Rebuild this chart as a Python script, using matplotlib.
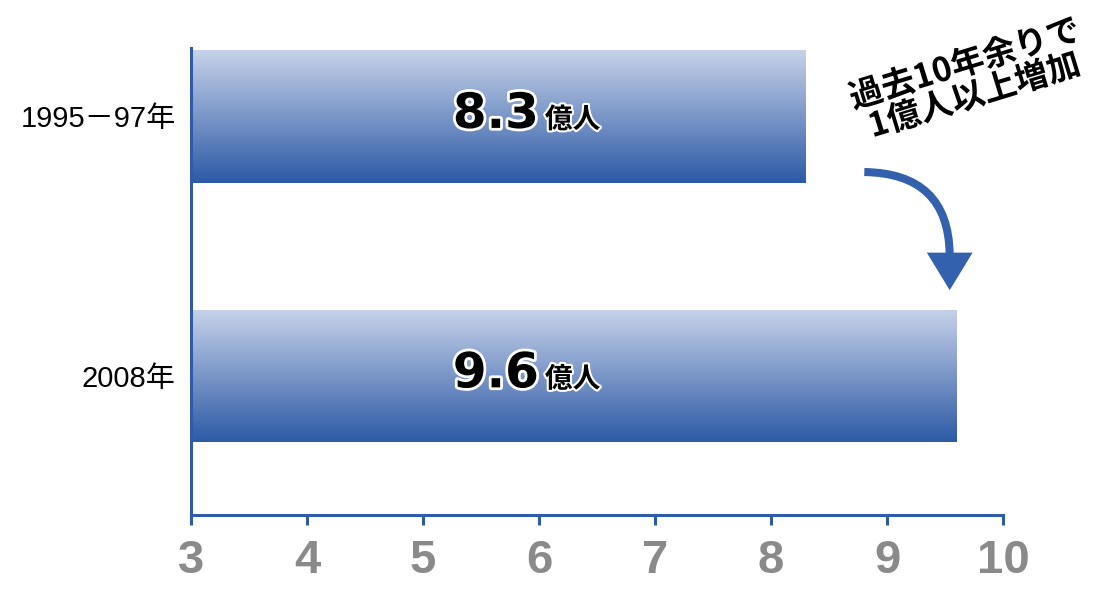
import numpy as np
import matplotlib
matplotlib.use('Agg')
import matplotlib.pyplot as plt
import matplotlib.patheffects as pe
from matplotlib.patches import FancyArrowPatch
from matplotlib.colors import LinearSegmentedColormap

periods = ['1995－97年', '2008年']
values = [8.3, 9.6]
unit = '億人'
note = '過去10年余りで\n1億人以上増加'
xticks = [3, 4, 5, 6, 7, 8, 9, 10]

blue = '#2f5ca8'
cjk = ['Noto Sans CJK JP', 'DejaVu Sans']
latin = ['Liberation Sans', 'Noto Sans CJK JP', 'DejaVu Sans']

fig = plt.figure(figsize=(10.96, 5.96), dpi=100)
ax = fig.add_axes([0.1743, 0.1359, 0.7409, 0.7836])

ypos = [1, 0]
h = 0.512
grad = LinearSegmentedColormap.from_list('g', ['#c6d2e9', '#2d5aa6'])
g = np.linspace(0, 1, 256).reshape(-1, 1)

for y, v in zip(ypos, values):
    bar = ax.barh(y, v - 3, left=3, height=h, color='none', edgecolor='none')[0]
    im = ax.imshow(g, cmap=grad, aspect='auto', origin='upper',
                   extent=[3, v, y - h / 2, y + h / 2], zorder=1)
    im.set_clip_path(bar)
    ax.text(6.0, y - 0.044, f'{v:.1f}', ha='right', va='baseline',
            fontsize=35, fontweight='bold', family='DejaVu Sans',
            color='black', path_effects=[pe.withStroke(linewidth=4, foreground='white')],
            zorder=3)
    ax.text(6.05, y - 0.044, unit, ha='left', va='baseline',
            fontsize=20, fontweight='bold', family=cjk,
            color='black', path_effects=[pe.withStroke(linewidth=3, foreground='white')],
            zorder=3)

ax.set_xlim(3, 10)
ax.set_ylim(-0.536, 1.264)
ax.set_xticks(xticks)
ax.set_xticklabels([str(t) for t in xticks], fontsize=34, fontweight='bold',
                   color='#8a8a8a', family=latin)
ax.set_yticks(ypos)
ax.set_yticklabels(periods, fontsize=21, family=latin)
ax.tick_params(axis='x', length=7.5, width=2.2, color=blue, direction='out', pad=10)
ax.tick_params(axis='y', length=0, pad=11)
for s in ['top', 'right']:
    ax.spines[s].set_visible(False)
for s in ['left', 'bottom']:
    ax.spines[s].set_color(blue)
    ax.spines[s].set_linewidth(2.2)

# curved arrow between the bars: curved shaft + straight head
arrow_c = '#3361ad'
shaft = FancyArrowPatch((8.78, 0.786), (9.54, 0.46),
                        connectionstyle='angle3,angleA=0,angleB=90',
                        arrowstyle='-', mutation_scale=1, color=arrow_c, lw=5.8,
                        capstyle='butt', zorder=3, clip_on=False)
head = FancyArrowPatch((9.54, 0.47), (9.54, 0.32),
                       arrowstyle='simple,head_length=27,head_width=33,tail_width=6',
                       mutation_scale=1, color=arrow_c, lw=0, zorder=3, clip_on=False)
ax.add_patch(shaft)
ax.add_patch(head)

fig.text(0.885, 0.865, note, rotation=17, ha='center', va='center',
         multialignment='center', fontsize=24, fontweight='bold', family=cjk,
         linespacing=1.0, color='black',
         path_effects=[pe.withStroke(linewidth=3, foreground='white')])

fig.savefig('out.png', dpi=100)
